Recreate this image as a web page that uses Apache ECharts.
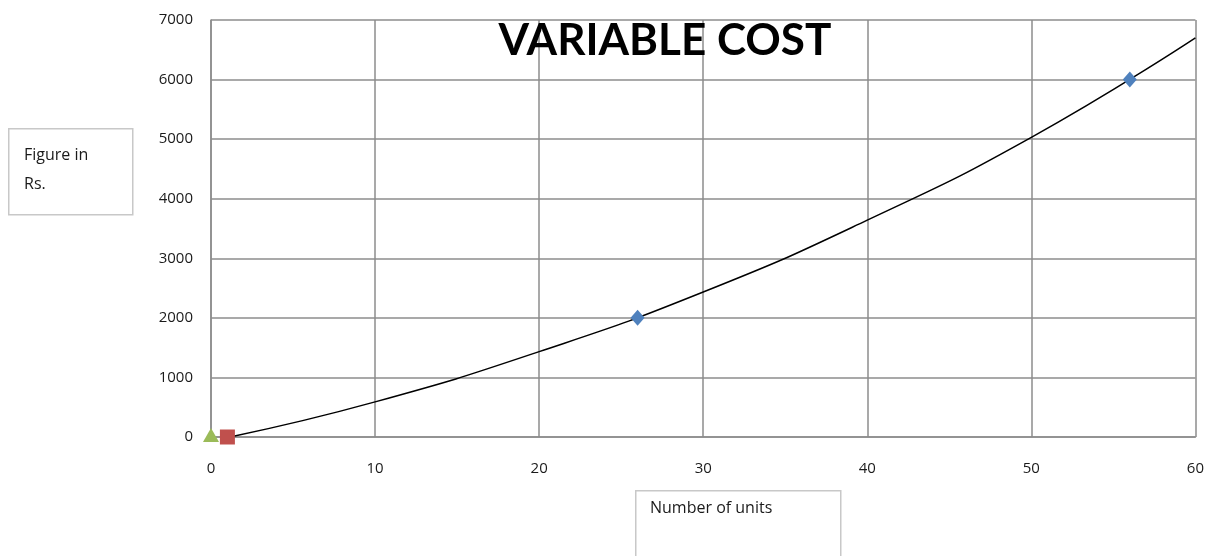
<!DOCTYPE html>
<html>
<head>
<meta charset="utf-8">
<script src="https://cdn.jsdelivr.net/npm/echarts@6/dist/echarts.min.js"></script>
<style>
  html, body { margin: 0; padding: 0; background: #fff; }
  #chart { width: 1207px; height: 556px; }
</style>
</head>
<body>
<div id="chart"></div>
<script>
// values
var xTicks = [0, 10, 20, 30, 40, 50, 60];
var yTicks = [0, 1000, 2000, 3000, 4000, 5000, 6000, 7000];

// trend curve, read point by point
var curveX = [1.3, 10, 20, 30, 40, 50, 60];
var curveY = [10, 590, 1433, 2433, 3640, 5030, 6700];

var blueX = [26, 56];
var blueY = [2000, 6000];
var redX = [1];
var redY = [0];
var greenX = [0];
var greenY = [0];

function pairs(xs, ys) {
  var out = [];
  for (var i = 0; i < xs.length; i++) out.push([xs[i], ys[i]]);
  return out;
}

var myChart = echarts.init(document.getElementById('chart'));
var labelFont = 'Open Sans, Noto Sans, sans-serif';

var option = {
  animation: false,
  backgroundColor: '#fff',
  title: {
    text: 'VARIABLE COST',
    left: 660,
    textAlign: 'center',
    top: 14,
    textStyle: {
      fontFamily: 'Lato, Open Sans, sans-serif',
      fontWeight: 'bold',
      fontSize: 44,
      color: '#000'
    }
  },
  grid: {
    left: 211,
    right: 10,
    top: 20,
    bottom: 119
  },
  xAxis: {
    type: 'value',
    min: xTicks[0],
    max: xTicks[xTicks.length - 1],
    interval: 10,
    axisLine: { show: true, lineStyle: { color: '#8c8c8c', width: 1.5 } },
    axisTick: { show: false },
    axisLabel: { margin: 24, fontSize: 15, color: '#1a1a1a', fontFamily: labelFont },
    splitLine: { show: true, lineStyle: { color: '#8c8c8c', width: 1.5 } }
  },
  yAxis: {
    type: 'value',
    min: yTicks[0],
    max: yTicks[yTicks.length - 1],
    interval: 1000,
    axisLine: { show: true, lineStyle: { color: '#8c8c8c', width: 1.5 } },
    axisTick: { show: false },
    axisLabel: {
      margin: 18, fontSize: 15, color: '#1a1a1a', fontFamily: labelFont,
      formatter: function (v) { return String(v); }
    },
    splitLine: { show: true, lineStyle: { color: '#8c8c8c', width: 1.5 } }
  },
  series: [
    {
      type: 'line',
      data: pairs(curveX, curveY),
      smooth: 0.5,
      showSymbol: false,
      lineStyle: { color: '#000', width: 1.5 },
      z: 2
    },
    {
      type: 'scatter',
      data: pairs(blueX, blueY),
      symbol: 'diamond',
      symbolSize: [14, 16],
      itemStyle: { color: '#4f81bd', opacity: 1 },
      z: 3
    },
    {
      type: 'scatter',
      data: pairs(greenX, greenY),
      symbol: 'triangle',
      symbolSize: [16, 14],
      symbolOffset: [0, -2],
      itemStyle: { color: '#9bbb59', opacity: 1 },
      z: 3
    },
    {
      type: 'scatter',
      data: pairs(redX, redY),
      symbol: 'rect',
      symbolSize: 15,
      itemStyle: { color: '#c0504d', opacity: 1 },
      z: 4
    }
  ],
  graphic: [
    {
      type: 'rect',
      left: 8,
      top: 128,
      shape: { width: 124, height: 86 },
      style: { fill: '#fff', stroke: '#c8c8c8', lineWidth: 1.5 }
    },
    {
      type: 'text',
      left: 24,
      top: 141,
      style: {
        text: 'Figure in\nRs.',
        fontSize: 16,
        lineHeight: 29,
        fontFamily: labelFont,
        fill: '#1a1a1a'
      }
    },
    {
      type: 'rect',
      left: 635,
      top: 490,
      shape: { width: 205, height: 80 },
      style: { fill: '#fff', stroke: '#c8c8c8', lineWidth: 1.5 }
    },
    {
      type: 'text',
      left: 650,
      top: 500,
      style: {
        text: 'Number of units',
        fontSize: 16,
        fontFamily: labelFont,
        fill: '#1a1a1a'
      }
    }
  ]
};

myChart.setOption(option);
</script>
</body>
</html>
